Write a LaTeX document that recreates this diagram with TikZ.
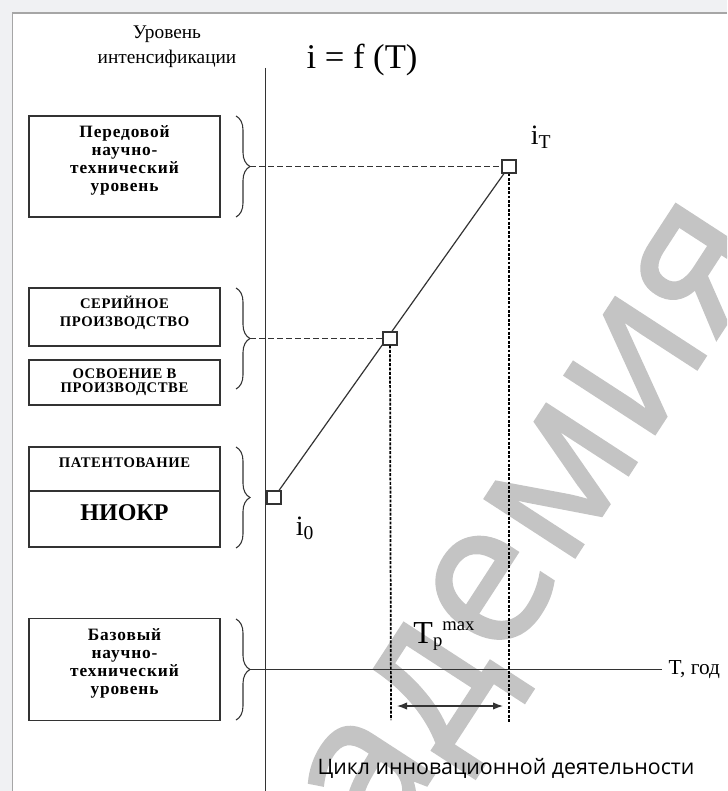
\documentclass[tikz,border=0pt]{standalone}
\usepackage{fontspec}
\setmainfont{Liberation Serif}
\newfontfamily\boxfont[LetterSpace=4]{Liberation Serif}
\newfontfamily\wideboxfont[LetterSpace=5]{Liberation Serif}
\newfontfamily\capfont{Open Sans}
\newfontfamily\wmfont[FakeBold=1.5]{Open Sans}
\usetikzlibrary{arrows.meta,decorations.pathreplacing}
\definecolor{pagebg}{HTML}{F0F1F3}
\definecolor{wmark}{HTML}{C4C4C4}
\definecolor{ink}{HTML}{333333}
\tikzset{
  lvlbox/.style={draw=ink, line width=1pt, minimum width=143.25pt, inner sep=0pt,
    align=center, font=\boxfont\bfseries\fontsize{11}{13.5}\selectfont},
  widebox/.style={lvlbox, text depth=12pt,
    font=\wideboxfont\bfseries\fontsize{13}{13.5}\selectfont},
  lvlbrace/.style={draw=ink, line width=0.8pt, decorate,
    decoration={brace,amplitude=10.5pt}},
  ptbox/.style={draw=ink, fill=white, line width=0.8pt, minimum width=10.5pt,
    minimum height=9.75pt, inner sep=0pt},
  guide/.style={ink, line width=1.1pt, dash pattern=on 4.5pt off 2.25pt},
  drop/.style={black, line width=1.7pt, dash pattern=on 2.2pt off 1.1pt},
}
\begin{document}
\begin{tikzpicture}[x=0.75pt,y=-0.75pt]
\useasboundingbox (0,0) rectangle (727,791);
\fill[pagebg] (0,0) rectangle (727,791);
\fill[white] (12.5,13) rectangle (727,791);
\draw[black!35, line width=1.2pt] (727,13) -- (12.5,13) -- (12.5,791);
% watermark
\begin{scope}
\clip (0,0) rectangle (727,791);
\node[text=wmark, rotate=57, text depth=0pt, inner sep=0pt,
  font=\wmfont\fontsize{150}{150}\selectfont] (wm) at (474,612) {академия};
\end{scope}
% heading and axis
\node[font=\fontsize{14.5}{19}\selectfont, align=center] (lvltitle) at (167,47)
  {Уровень\\интенсификации};
\node[font=\fontsize{26}{30}\selectfont] (law) at (362,60) {i = f (T)};
\coordinate (ytop) at (265.5,68);
\coordinate (ybot) at (265.5,791);
\draw[ink, line width=0.8pt] (ytop) -- (ybot);
% level boxes
\node[widebox, minimum height=75.75pt] (lead) at (124.5,166.5)
  {Передовой\\научно-\\технический\\уровень};
\node[lvlbox, minimum height=43.5pt, text depth=8pt] (serial) at (124.5,317)
  {СЕРИЙНОЕ\\ПРОИЗВОДСТВО};
\node[lvlbox, minimum height=33.75pt, font=\boxfont\bfseries\fontsize{11}{10.5}\selectfont]
  (master) at (124.5,382.5) {ОСВОЕНИЕ В\\ПРОИЗВОДСТВЕ};
\node[lvlbox, minimum height=33pt, text depth=9pt] (patent) at (124.5,469) {ПАТЕНТОВАНИЕ};
\node[lvlbox, minimum height=42pt, text depth=9pt, font=\bfseries\fontsize{18}{20}\selectfont]
  (niokr) at (124.5,519) {НИОКР};
\node[widebox, minimum height=76.5pt] (base) at (124.5,669.5)
  {Базовый\\научно-\\технический\\уровень};
% braces
\draw[lvlbrace] (236,116) -- (236,217);
\draw[lvlbrace] (236,288) -- (236,389);
\draw[lvlbrace] (236,447) -- (236,548);
\draw[lvlbrace] (236,619) -- (236,720);
\coordinate (tip1) at (250,166.5);
\coordinate (tip2) at (250,338.5);
\coordinate (tip4) at (250,669.5);
% time axis
\coordinate (tend) at (662,669.5);
\draw[ink, line width=0.8pt] (tip4) -- (tend);
\node[anchor=west, font=\fontsize{16}{18}\selectfont] (tlbl) at (664,669.5) {T, год};
% growth line
\coordinate (c0) at (274,497.5);
\coordinate (c1) at (390,338.5);
\coordinate (c2) at (509,166.5);
\draw[ink, line width=0.9pt] (c0) -- (c2);
\node[ptbox] (i0) at (c0) {};
\node[ptbox] (im) at (c1) {};
\node[ptbox] (iT) at (c2) {};
\draw[guide] (tip1) -- (iT.west);
\draw[guide] (tip2) -- (im.west);
\coordinate (mbot) at (391,720);
\coordinate (tbot) at (509,723);
\draw[drop, line width=1.3pt] (im.south) -- (mbot);
\draw[drop] (iT.south) -- (tbot);
\node[font=\fontsize{21}{24}\selectfont] (iTlbl) at (541,137) {i\textsubscript{T}};
\node[font=\fontsize{21}{24}\selectfont] (i0lbl) at (305,528) {i\textsubscript{0}};
% cycle span
\coordinate (spanL) at (397,706);
\coordinate (spanR) at (503,706);
\draw[ink, line width=0.9pt, {Latex[length=7.5pt,width=5.5pt]}-{Latex[length=7.5pt,width=5.5pt]}]
  (spanL) -- (spanR);
\node[font=\fontsize{24}{28}\selectfont, inner sep=1pt] (tpmax) at (444,636)
  {T{\fontsize{14}{14}\selectfont\raisebox{-2pt}{p}\raisebox{9.5pt}{max}}};
\node[font=\capfont\fontsize{16}{18}\selectfont] (cycle) at (506,768)
  {Цикл инновационной деятельности};
\end{tikzpicture}
\end{document}
